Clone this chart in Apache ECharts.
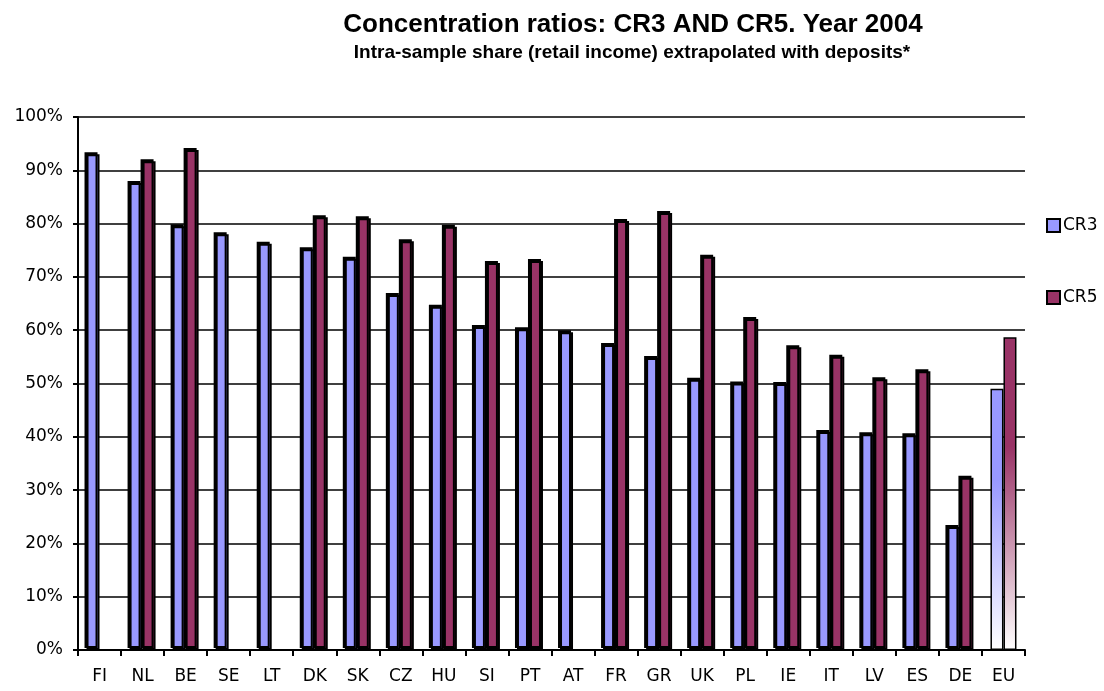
<!DOCTYPE html>
<html>
<head>
<meta charset="utf-8">
<script src="https://cdn.jsdelivr.net/npm/echarts@6/dist/echarts.min.js"></script>
<style>
  html, body { margin: 0; padding: 0; background: #fff; }
  #chart { width: 1104px; height: 691px; }
</style>
</head>
<body>
<div id="chart"></div>
<script>
const countries = ['FI', 'NL', 'BE', 'SE', 'LT', 'DK', 'SK', 'CZ', 'HU', 'SI', 'PT', 'AT', 'FR', 'GR', 'UK', 'PL', 'IE', 'IT', 'LV', 'ES', 'DE', 'EU']
const cr3 = [93.0, 87.6, 79.5, 78.0, 76.2, 75.2, 73.4, 66.6, 64.4, 60.6, 60.2, 59.6, 57.2, 54.8, 50.7, 50.0, 49.9, 40.9, 40.5, 40.3, 23.1, 49.0]
const cr5 = [null, 91.7, 93.8, null, null, 81.2, 81.0, 76.7, 79.4, 72.6, 73.0, null, 80.5, 82.0, 73.8, 62.1, 56.8, 55.0, 50.8, 52.3, 32.3, 58.7]

const blue = '#9999ff'
const maroon = '#993366'

const chart = echarts.init(document.getElementById('chart'))

// EU bars fade to white, with a thin outline
const makeData = (vals, color) => vals.map((v, i) => {
  if (countries[i] !== 'EU') return v
  return {
    value: v,
    itemStyle: {
      borderWidth: 1.5,
      borderColor: '#000',
      shadowOffsetX: 0,
      shadowOffsetY: 0,
      color: new echarts.graphic.LinearGradient(0, 0, 0, 1, [
        { offset: 0, color: color },
        { offset: 0.35, color: color },
        { offset: 1, color: '#ffffff' }
      ])
    }
  }
})

const barStyle = (color) => ({
  color: color,
  borderColor: '#000',
  borderWidth: 2,
  shadowColor: '#000',
  shadowOffsetX: -2,
  shadowOffsetY: -2
})

const axisFont = 'DejaVu Sans, sans-serif'

chart.setOption({
  animation: false,
  title: [{
    text: 'Concentration ratios: CR3 AND CR5. Year 2004',
    left: 628, top: 7, textAlign: 'center',
    textStyle: { fontSize: 26, fontWeight: 'bold', color: '#000', fontFamily: 'Liberation Sans, Arial, sans-serif' }
  }, {
    text: 'Intra-sample share (retail income) extrapolated with deposits*',
    left: 627, top: 38, textAlign: 'center',
    textStyle: { fontSize: 19, fontWeight: 'bold', color: '#000', fontFamily: 'Liberation Sans, Arial, sans-serif' }
  }],
  legend: {
    orient: 'vertical',
    left: 1041, top: 212,
    itemGap: 55,
    itemWidth: 13, itemHeight: 13,
    icon: 'rect',
    textStyle: { fontSize: 17, color: '#000', fontFamily: axisFont, padding: [0, 0, 0, -2] },
    data: [
      { name: 'CR3', itemStyle: { color: blue, borderColor: '#000', borderWidth: 2, shadowOffsetX: 0, shadowOffsetY: 0 } },
      { name: 'CR5', itemStyle: { color: maroon, borderColor: '#000', borderWidth: 2, shadowOffsetX: 0, shadowOffsetY: 0 } }
    ]
  },
  grid: { left: 78, right: 79, top: 117, bottom: 41 },
  xAxis: {
    type: 'category',
    data: countries,
    axisLine: { lineStyle: { color: '#000', width: 2 } },
    axisTick: { show: true, length: 6, lineStyle: { color: '#000', width: 2 } },
    axisLabel: { color: '#000', fontSize: 17, fontFamily: axisFont, margin: 18 }
  },
  yAxis: {
    type: 'value',
    min: 0, max: 100, interval: 10,
    axisLine: { show: true, lineStyle: { color: '#000', width: 2 } },
    axisTick: { show: true, length: 5, lineStyle: { color: '#000', width: 2 } },
    axisLabel: { color: '#000', fontSize: 17, fontFamily: axisFont, margin: 15, formatter: '{value}%' },
    splitLine: { lineStyle: { color: '#000', width: 1.5 } }
  },
  series: [{
    name: 'CR3',
    type: 'bar',
    barWidth: 13,
    barGap: '0%',
    itemStyle: barStyle(blue),
    data: makeData(cr3, blue)
  }, {
    name: 'CR5',
    type: 'bar',
    barWidth: 13,
    barGap: '0%',
    itemStyle: barStyle(maroon),
    data: makeData(cr5, maroon)
  }]
})
</script>
</body>
</html>
